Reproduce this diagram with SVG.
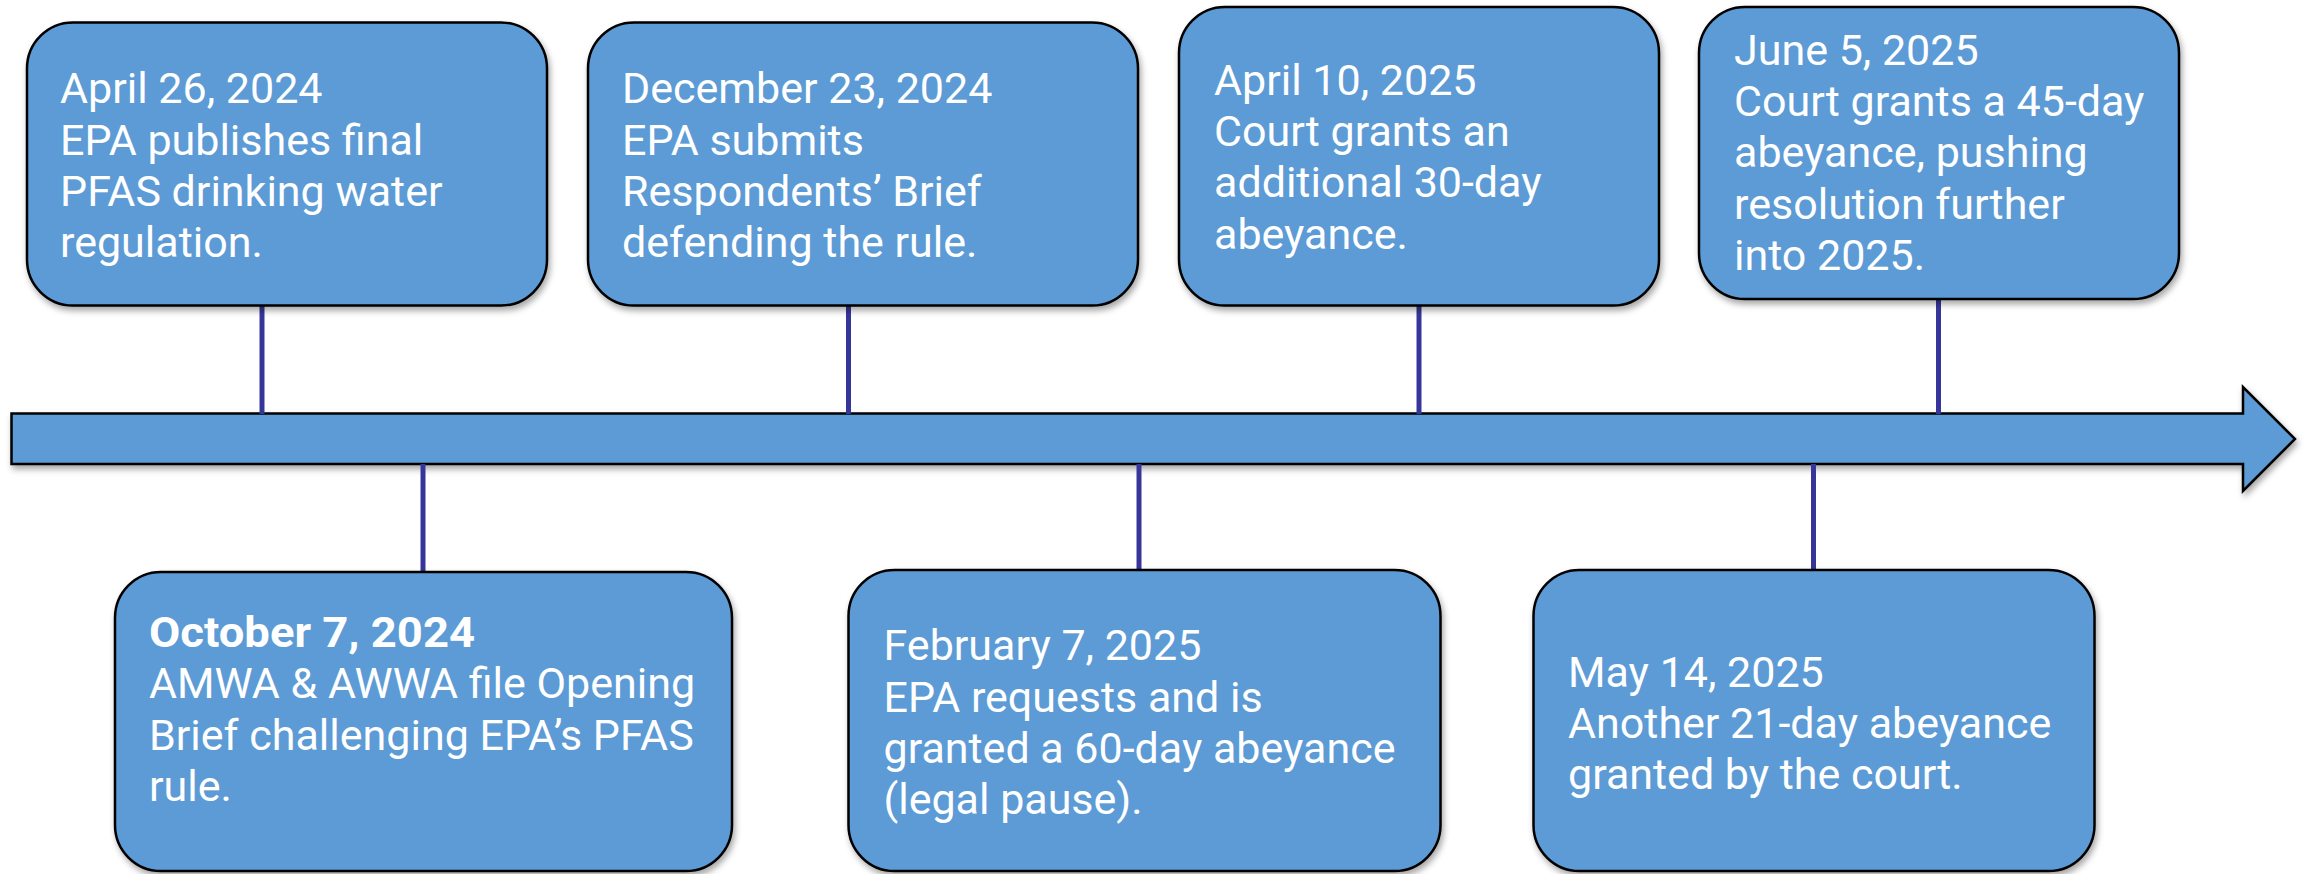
<svg xmlns="http://www.w3.org/2000/svg" width="2306" height="874" viewBox="0 0 2306 874">
<defs>
<filter id="sh" x="-5%" y="-10%" width="110%" height="125%">
<feDropShadow dx="2" dy="4" stdDeviation="3" flood-color="#000" flood-opacity="0.35"/>
</filter>
<style>
.box{fill:#5B9BD5;stroke:#000;stroke-width:2.5;filter:url(#sh)}
.t{font-family:Roboto,"Open Sans","DejaVu Sans",sans-serif;font-size:43px;fill:#fff}
.b{font-weight:bold}
.con line{stroke:#36369A;stroke-width:5}
</style>
</defs>
<rect width="2306" height="874" fill="#fff"/>
<g id="timeline">
<path class="box" d="M11.5,413.5 H2243 V387 L2295,439 L2243,491 V464 H11.5 Z"/>
</g>
<g id="connectors" class="con">
<line x1="262" y1="305" x2="262" y2="414"/>
<line x1="848.5" y1="305" x2="848.5" y2="414"/>
<line x1="1419" y1="305" x2="1419" y2="414"/>
<line x1="1938.5" y1="299" x2="1938.5" y2="414"/>
<line x1="423" y1="464" x2="423" y2="572"/>
<line x1="1139" y1="464" x2="1139" y2="570"/>
<line x1="1813.5" y1="464" x2="1813.5" y2="570"/>
</g>
<g id="n1">
<rect class="box" x="27" y="22.5" width="520" height="283" rx="46" ry="46"/>
<text class="t" x="60" y="103.3">April 26, 2024</text>
<text class="t" x="60" y="154.5">EPA publishes final</text>
<text class="t" x="60" y="205.7">PFAS drinking water</text>
<text class="t" x="60" y="256.9">regulation.</text>
</g>
<g id="n2">
<rect class="box" x="588" y="22.5" width="550" height="283" rx="46" ry="46"/>
<text class="t" x="622" y="103.3">December 23, 2024</text>
<text class="t" x="622" y="154.5">EPA submits</text>
<text class="t" x="622" y="205.7">Respondents’ Brief</text>
<text class="t" x="622" y="256.9">defending the rule.</text>
</g>
<g id="n3">
<rect class="box" x="1179" y="7" width="480" height="298.5" rx="46" ry="46"/>
<text class="t" x="1214" y="95">April 10, 2025</text>
<text class="t" x="1214" y="146.2">Court grants an</text>
<text class="t" x="1214" y="197.4">additional 30-day</text>
<text class="t" x="1214" y="248.6">abeyance.</text>
</g>
<g id="n4">
<rect class="box" x="1699" y="7" width="480" height="292" rx="46" ry="46"/>
<text class="t" x="1734" y="65">June 5, 2025</text>
<text class="t" x="1734" y="116.2">Court grants a 45-day</text>
<text class="t" x="1734" y="167.4">abeyance, pushing</text>
<text class="t" x="1734" y="218.6">resolution further</text>
<text class="t" x="1734" y="269.8">into 2025.</text>
</g>
<g id="n5">
<rect class="box" x="115" y="572" width="617" height="299" rx="46" ry="46"/>
<text class="t b" x="149" y="646.7" textLength="326" lengthAdjust="spacingAndGlyphs">October 7, 2024</text>
<text class="t" x="149" y="698">AMWA &amp; AWWA file Opening</text>
<text class="t" x="149" y="749.5">Brief challenging EPA’s PFAS</text>
<text class="t" x="149" y="800.5">rule.</text>
</g>
<g id="n6">
<rect class="box" x="848.5" y="570" width="592" height="301" rx="46" ry="46"/>
<text class="t" x="883.5" y="660">February 7, 2025</text>
<text class="t" x="883.5" y="711.5">EPA requests and is</text>
<text class="t" x="883.5" y="763">granted a 60-day abeyance</text>
<text class="t" x="883.5" y="814">(legal pause).</text>
</g>
<g id="n7">
<rect class="box" x="1533.5" y="570" width="561" height="301" rx="46" ry="46"/>
<text class="t" x="1568" y="686.7">May 14, 2025</text>
<text class="t" x="1568" y="738">Another 21-day abeyance</text>
<text class="t" x="1568" y="789">granted by the court.</text>
</g>
</svg>
